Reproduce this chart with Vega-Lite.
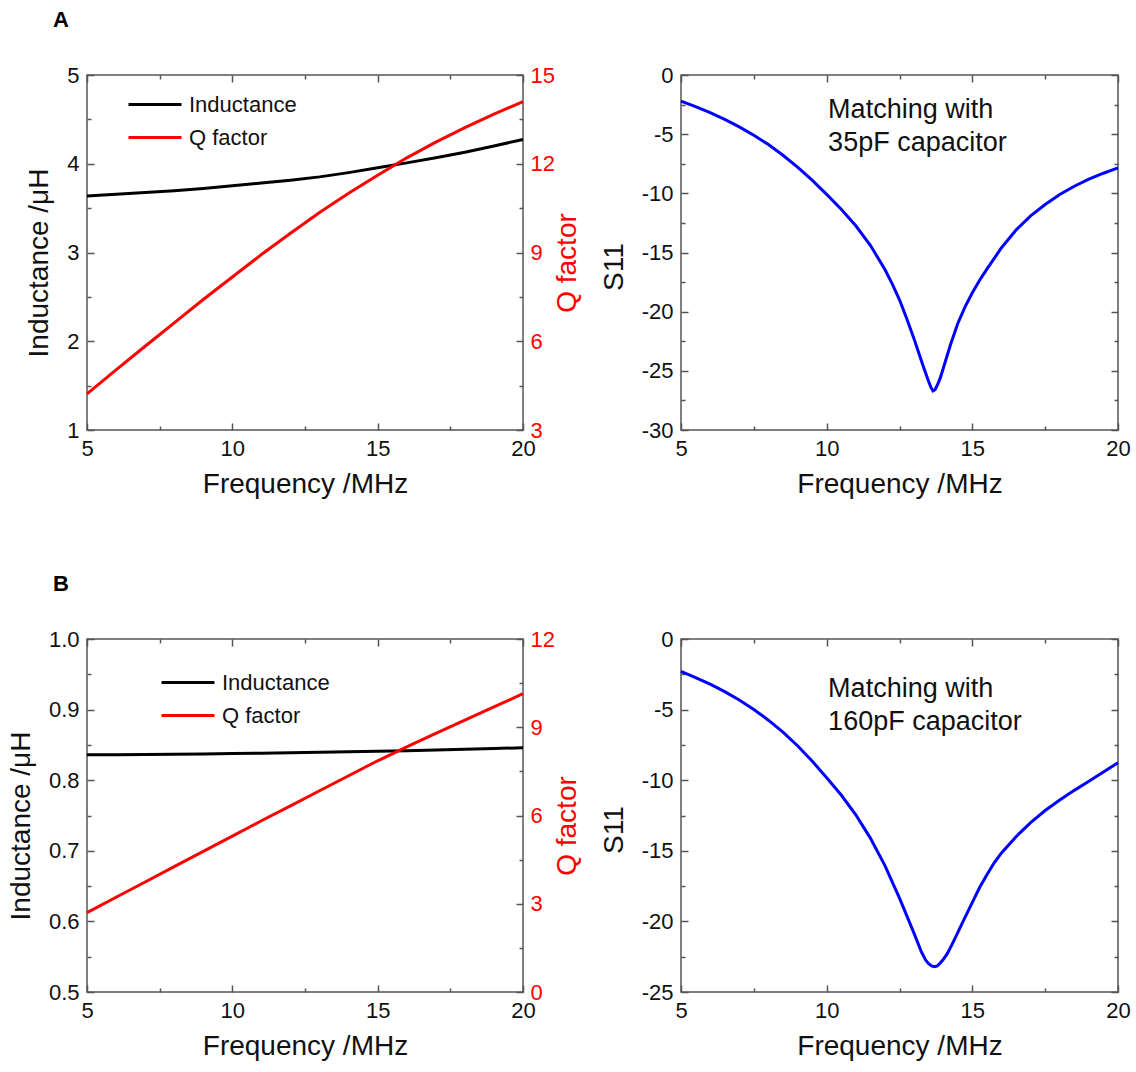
{
  "$schema": "https://vega.github.io/schema/vega-lite/v6.json",
  "background": "white",
  "padding": {"left": 6, "top": 8, "right": 10, "bottom": 10},
  "bounds": "flush",
  "columns": 2,
  "spacing": {"row": 209, "column": 158},
  "resolve": {"scale": {"color": "independent"}},
  "config": {
    "font": "Liberation Sans",
    "view": {"stroke": "#555555", "strokeWidth": 1.5},
    "axis": {
      "domain": false, "grid": false, "labelFlush": false, "labelOverlap": false, "ticks": true,
      "labelFont": "Liberation Sans", "labelFontSize": 22, "labelColor": "#111111",
      "titleFont": "Liberation Sans", "titleFontSize": 28, "titleFontWeight": "normal", "titleColor": "#111111",
      "tickColor": "#555555", "tickWidth": 1.5, "tickOpacity": 1
    },
    "legend": {
      "orient": "none", "title": null, "padding": 0, "symbolType": "stroke", "symbolSize": 2809,
      "symbolStrokeWidth": 3, "labelFont": "Liberation Sans", "labelFontSize": 22, "labelColor": "#111111",
      "labelOffset": 6, "rowPadding": 0, "clipHeight": 33
    }
  },
  "datasets": {
    "indA": [
      {"f": 5, "L": 3.638, "Q": 4.22}, {"f": 6, "L": 3.655, "Q": 5.03}, {"f": 7, "L": 3.675, "Q": 5.83},
      {"f": 8, "L": 3.697, "Q": 6.62}, {"f": 9, "L": 3.722, "Q": 7.41}, {"f": 10, "L": 3.751, "Q": 8.17},
      {"f": 11, "L": 3.782, "Q": 8.93}, {"f": 12, "L": 3.815, "Q": 9.65}, {"f": 13, "L": 3.852, "Q": 10.35},
      {"f": 14, "L": 3.9, "Q": 11.0}, {"f": 15, "L": 3.954, "Q": 11.61}, {"f": 16, "L": 4.01, "Q": 12.2},
      {"f": 17, "L": 4.068, "Q": 12.73}, {"f": 18, "L": 4.13, "Q": 13.22}, {"f": 19, "L": 4.2, "Q": 13.68},
      {"f": 20, "L": 4.274, "Q": 14.1}
    ],
    "indB": [
      {"f": 5, "L": 0.836, "Q": 2.7}, {"f": 6, "L": 0.8362, "Q": 3.22}, {"f": 7, "L": 0.8365, "Q": 3.74},
      {"f": 8, "L": 0.8368, "Q": 4.26}, {"f": 9, "L": 0.8372, "Q": 4.78}, {"f": 10, "L": 0.8377, "Q": 5.3},
      {"f": 11, "L": 0.8382, "Q": 5.82}, {"f": 12, "L": 0.8388, "Q": 6.33}, {"f": 13, "L": 0.8395, "Q": 6.84},
      {"f": 14, "L": 0.8402, "Q": 7.35}, {"f": 15, "L": 0.841, "Q": 7.86}, {"f": 16, "L": 0.8418, "Q": 8.33},
      {"f": 17, "L": 0.8427, "Q": 8.79}, {"f": 18, "L": 0.8437, "Q": 9.24}, {"f": 19, "L": 0.8448, "Q": 9.69},
      {"f": 20, "L": 0.846, "Q": 10.14}
    ],
    "s11A": [
      {"f": 5, "s": -2.2}, {"f": 5.5, "s": -2.67}, {"f": 6, "s": -3.18}, {"f": 6.5, "s": -3.75}, {"f": 7, "s": -4.38},
      {"f": 7.5, "s": -5.09}, {"f": 8, "s": -5.88}, {"f": 8.5, "s": -6.78}, {"f": 9, "s": -7.78}, {"f": 9.5, "s": -8.89},
      {"f": 10, "s": -10.09}, {"f": 10.5, "s": -11.34}, {"f": 11, "s": -12.74}, {"f": 11.5, "s": -14.39}, {"f": 12, "s": -16.44},
      {"f": 12.25, "s": -17.65}, {"f": 12.5, "s": -19.0}, {"f": 12.75, "s": -20.6}, {"f": 13, "s": -22.3}, {"f": 13.15, "s": -23.4},
      {"f": 13.3, "s": -24.5}, {"f": 13.4, "s": -25.2}, {"f": 13.5, "s": -25.9}, {"f": 13.58, "s": -26.4}, {"f": 13.65, "s": -26.7},
      {"f": 13.72, "s": -26.6}, {"f": 13.8, "s": -26.2}, {"f": 13.9, "s": -25.6}, {"f": 14.0, "s": -24.8}, {"f": 14.1, "s": -24.0},
      {"f": 14.25, "s": -22.8}, {"f": 14.5, "s": -21.0}, {"f": 14.75, "s": -19.6}, {"f": 15, "s": -18.4}, {"f": 15.25, "s": -17.35},
      {"f": 15.5, "s": -16.4}, {"f": 16, "s": -14.6}, {"f": 16.5, "s": -13.1}, {"f": 17, "s": -11.9}, {"f": 17.5, "s": -10.95},
      {"f": 18, "s": -10.1}, {"f": 18.5, "s": -9.4}, {"f": 19, "s": -8.8}, {"f": 19.5, "s": -8.3}, {"f": 20, "s": -7.85}
    ],
    "s11B": [
      {"f": 5, "s": -2.3}, {"f": 5.5, "s": -2.73}, {"f": 6, "s": -3.2}, {"f": 6.5, "s": -3.73}, {"f": 7, "s": -4.32},
      {"f": 7.5, "s": -4.99}, {"f": 8, "s": -5.75}, {"f": 8.5, "s": -6.6}, {"f": 9, "s": -7.56}, {"f": 9.5, "s": -8.64},
      {"f": 10, "s": -9.82}, {"f": 10.5, "s": -11.05}, {"f": 11, "s": -12.45}, {"f": 11.5, "s": -14.1}, {"f": 12, "s": -16.05},
      {"f": 12.5, "s": -18.35}, {"f": 13, "s": -20.85}, {"f": 13.25, "s": -22.15}, {"f": 13.4, "s": -22.75}, {"f": 13.5, "s": -23.0},
      {"f": 13.6, "s": -23.15}, {"f": 13.7, "s": -23.2}, {"f": 13.8, "s": -23.15}, {"f": 13.9, "s": -22.95}, {"f": 14.0, "s": -22.7},
      {"f": 14.15, "s": -22.25}, {"f": 14.3, "s": -21.65}, {"f": 14.45, "s": -21.0}, {"f": 14.6, "s": -20.35}, {"f": 14.8, "s": -19.5},
      {"f": 15, "s": -18.65}, {"f": 15.25, "s": -17.6}, {"f": 15.5, "s": -16.7}, {"f": 15.75, "s": -15.85}, {"f": 16, "s": -15.15},
      {"f": 16.5, "s": -14.0}, {"f": 17, "s": -13.0}, {"f": 17.5, "s": -12.15}, {"f": 18, "s": -11.4}, {"f": 18.5, "s": -10.72},
      {"f": 19, "s": -10.08}, {"f": 19.5, "s": -9.42}, {"f": 20, "s": -8.76}
    ],
    "noteA": [{"x": 10.05, "y": -3.66, "t": "Matching with\n35pF capacitor"}],
    "noteB": [{"x": 10.05, "y": -4.09, "t": "Matching with\n160pF capacitor"}]
  },
  "concat": [
    {
      "width": 436, "height": 355,
      "title": {"text": "A", "anchor": "start", "frame": "group", "fontSize": 22, "fontWeight": "bold", "color": "#000000", "dx": -34, "offset": 32},
      "data": {"name": "indA"},
      "resolve": {"scale": {"y": "independent"}, "axis": {"x": "independent", "y": "independent"}},
      "layer": [
        {
          "mark": {"type": "line", "strokeWidth": 3},
          "encoding": {
            "x": {"field": "f", "type": "quantitative", "scale": {"domain": [5, 20], "nice": false, "zero": false},
                  "axis": {"orient": "bottom", "title": "Frequency /MHz", "values": [5, 10, 15, 20], "tickSize": -7,
                           "labelPadding": 15, "titlePadding": 11}},
            "y": {"field": "L", "type": "quantitative", "scale": {"domain": [1, 5], "nice": false, "zero": false},
                  "axis": {"orient": "left", "title": "Inductance /μH", "values": [1, 2, 3, 4, 5], "tickSize": -7,
                           "labelPadding": 15, "titlePadding": 13, "titleY": 187.5}},
            "color": {"datum": "Inductance", "scale": {"domain": ["Inductance", "Q factor"], "range": ["#000000", "#ff0000"]},
                      "legend": {"legendX": 40, "legendY": 13}}
          }
        },
        {
          "mark": {"type": "line", "strokeWidth": 3},
          "encoding": {
            "x": {"field": "f", "type": "quantitative", "scale": {"domain": [5, 20], "nice": false, "zero": false},
                  "axis": {"orient": "top", "title": null, "labels": false, "values": [5, 10, 15, 20], "tickSize": -7}},
            "y": {"field": "Q", "type": "quantitative", "scale": {"domain": [3, 15], "nice": false, "zero": false},
                  "axis": {"orient": "right", "title": "Q factor", "titleColor": "#ff0000", "labelColor": "#ff0000",
                           "titleAngle": 270, "titleBaseline": "top", "titleY": 187.5,
                           "values": [3, 6, 9, 12, 15], "tickSize": -7, "labelPadding": 14, "titlePadding": -1}},
            "color": {"datum": "Q factor"}
          }
        },
        {
          "mark": {"type": "line", "opacity": 0},
          "encoding": {
            "x": {"field": "f", "type": "quantitative", "scale": {"domain": [5, 20], "nice": false, "zero": false},
                  "axis": {"orient": "bottom", "title": null, "labels": false, "values": [7.5, 12.5, 17.5], "tickSize": -4}},
            "y": {"field": "L", "type": "quantitative", "scale": {"domain": [1, 5], "nice": false, "zero": false},
                  "axis": {"orient": "left", "title": null, "labels": false, "values": [1.5, 2.5, 3.5, 4.5], "tickSize": -4}}
          }
        },
        {
          "mark": {"type": "line", "opacity": 0},
          "encoding": {
            "x": {"field": "f", "type": "quantitative", "scale": {"domain": [5, 20], "nice": false, "zero": false},
                  "axis": {"orient": "top", "title": null, "labels": false, "values": [7.5, 12.5, 17.5], "tickSize": -4}},
            "y": {"field": "Q", "type": "quantitative", "scale": {"domain": [3, 15], "nice": false, "zero": false},
                  "axis": {"orient": "right", "title": null, "labels": false, "values": [4.5, 7.5, 10.5, 13.5], "tickSize": -4}}
          }
        }
      ]
    },
    {
      "width": 437, "height": 355,
      "resolve": {"axis": {"x": "independent", "y": "independent"}},
      "layer": [
        {
          "data": {"name": "s11A"},
          "mark": {"type": "line", "strokeWidth": 3, "color": "#0000ff"},
          "encoding": {
            "x": {"field": "f", "type": "quantitative", "scale": {"domain": [5, 20], "nice": false, "zero": false},
                  "axis": {"orient": "bottom", "title": "Frequency /MHz", "values": [5, 10, 15, 20], "tickSize": -7,
                           "labelPadding": 15, "titlePadding": 11}},
            "y": {"field": "s", "type": "quantitative", "scale": {"domain": [-30, 0], "nice": false, "zero": false},
                  "axis": {"orient": "left", "title": "S11", "values": [-30, -25, -20, -15, -10, -5, 0],
                           "labelExpr": "'' + datum.value", "tickSize": -7,
                           "labelPadding": 15, "titlePadding": 13, "titleY": 191.5}}
          }
        },
        {
          "data": {"name": "noteA"},
          "mark": {"type": "text", "align": "left", "baseline": "alphabetic", "fontSize": 27, "lineBreak": "\n", "lineHeight": 33, "color": "#111111"},
          "encoding": {
            "x": {"field": "x", "type": "quantitative", "scale": {"domain": [5, 20], "nice": false, "zero": false},
                  "axis": {"orient": "top", "title": null, "labels": false, "values": [5, 10, 15, 20], "tickSize": -7}},
            "y": {"field": "y", "type": "quantitative", "scale": {"domain": [-30, 0], "nice": false, "zero": false},
                  "axis": {"orient": "right", "title": null, "labels": false, "values": [-30, -25, -20, -15, -10, -5, 0], "tickSize": -7}},
            "text": {"field": "t"}
          }
        },
        {
          "data": {"name": "s11A"},
          "mark": {"type": "line", "opacity": 0},
          "encoding": {
            "x": {"field": "f", "type": "quantitative", "scale": {"domain": [5, 20], "nice": false, "zero": false},
                  "axis": {"orient": "bottom", "title": null, "labels": false, "values": [7.5, 12.5, 17.5], "tickSize": -4}},
            "y": {"field": "s", "type": "quantitative", "scale": {"domain": [-30, 0], "nice": false, "zero": false},
                  "axis": {"orient": "left", "title": null, "labels": false, "values": [-27.5, -22.5, -17.5, -12.5, -7.5, -2.5], "tickSize": -4}}
          }
        },
        {
          "data": {"name": "s11A"},
          "mark": {"type": "line", "opacity": 0},
          "encoding": {
            "x": {"field": "f", "type": "quantitative", "scale": {"domain": [5, 20], "nice": false, "zero": false},
                  "axis": {"orient": "top", "title": null, "labels": false, "values": [7.5, 12.5, 17.5], "tickSize": -4}},
            "y": {"field": "s", "type": "quantitative", "scale": {"domain": [-30, 0], "nice": false, "zero": false},
                  "axis": {"orient": "right", "title": null, "labels": false, "values": [-27.5, -22.5, -17.5, -12.5, -7.5, -2.5], "tickSize": -4}}
          }
        }
      ]
    },
    {
      "width": 436, "height": 353,
      "title": {"text": "B", "anchor": "start", "frame": "group", "fontSize": 22, "fontWeight": "bold", "color": "#000000", "dx": -34, "offset": 32},
      "data": {"name": "indB"},
      "resolve": {"scale": {"y": "independent"}, "axis": {"x": "independent", "y": "independent"}},
      "layer": [
        {
          "mark": {"type": "line", "strokeWidth": 3},
          "encoding": {
            "x": {"field": "f", "type": "quantitative", "scale": {"domain": [5, 20], "nice": false, "zero": false},
                  "axis": {"orient": "bottom", "title": "Frequency /MHz", "values": [5, 10, 15, 20], "tickSize": -7,
                           "labelPadding": 15, "titlePadding": 11}},
            "y": {"field": "L", "type": "quantitative", "scale": {"domain": [0.5, 1.0], "nice": false, "zero": false},
                  "axis": {"orient": "left", "title": "Inductance /μH", "format": ".1f", "values": [0.5, 0.6, 0.7, 0.8, 0.9, 1.0],
                           "tickSize": -7, "labelPadding": 15, "titlePadding": 13, "titleY": 186.5}},
            "color": {"datum": "Inductance", "scale": {"domain": ["Inductance", "Q factor"], "range": ["#000000", "#ff0000"]},
                      "legend": {"legendX": 73, "legendY": 27}}
          }
        },
        {
          "mark": {"type": "line", "strokeWidth": 3},
          "encoding": {
            "x": {"field": "f", "type": "quantitative", "scale": {"domain": [5, 20], "nice": false, "zero": false},
                  "axis": {"orient": "top", "title": null, "labels": false, "values": [5, 10, 15, 20], "tickSize": -7}},
            "y": {"field": "Q", "type": "quantitative", "scale": {"domain": [0, 12], "nice": false, "zero": false},
                  "axis": {"orient": "right", "title": "Q factor", "titleColor": "#ff0000", "labelColor": "#ff0000",
                           "titleAngle": 270, "titleBaseline": "top", "titleY": 186.5,
                           "values": [0, 3, 6, 9, 12], "tickSize": -7, "labelPadding": 14, "titlePadding": -1}},
            "color": {"datum": "Q factor"}
          }
        },
        {
          "mark": {"type": "line", "opacity": 0},
          "encoding": {
            "x": {"field": "f", "type": "quantitative", "scale": {"domain": [5, 20], "nice": false, "zero": false},
                  "axis": {"orient": "bottom", "title": null, "labels": false, "values": [7.5, 12.5, 17.5], "tickSize": -4}},
            "y": {"field": "L", "type": "quantitative", "scale": {"domain": [0.5, 1.0], "nice": false, "zero": false},
                  "axis": {"orient": "left", "title": null, "labels": false, "values": [0.55, 0.65, 0.75, 0.85, 0.95], "tickSize": -4}}
          }
        },
        {
          "mark": {"type": "line", "opacity": 0},
          "encoding": {
            "x": {"field": "f", "type": "quantitative", "scale": {"domain": [5, 20], "nice": false, "zero": false},
                  "axis": {"orient": "top", "title": null, "labels": false, "values": [7.5, 12.5, 17.5], "tickSize": -4}},
            "y": {"field": "Q", "type": "quantitative", "scale": {"domain": [0, 12], "nice": false, "zero": false},
                  "axis": {"orient": "right", "title": null, "labels": false, "values": [1.5, 4.5, 7.5, 10.5], "tickSize": -4}}
          }
        }
      ]
    },
    {
      "width": 437, "height": 353,
      "resolve": {"axis": {"x": "independent", "y": "independent"}},
      "layer": [
        {
          "data": {"name": "s11B"},
          "mark": {"type": "line", "strokeWidth": 3, "color": "#0000ff"},
          "encoding": {
            "x": {"field": "f", "type": "quantitative", "scale": {"domain": [5, 20], "nice": false, "zero": false},
                  "axis": {"orient": "bottom", "title": "Frequency /MHz", "values": [5, 10, 15, 20], "tickSize": -7,
                           "labelPadding": 15, "titlePadding": 11}},
            "y": {"field": "s", "type": "quantitative", "scale": {"domain": [-25, 0], "nice": false, "zero": false},
                  "axis": {"orient": "left", "title": "S11", "values": [-25, -20, -15, -10, -5, 0],
                           "labelExpr": "'' + datum.value", "tickSize": -7,
                           "labelPadding": 15, "titlePadding": 13, "titleY": 190.5}}
          }
        },
        {
          "data": {"name": "noteB"},
          "mark": {"type": "text", "align": "left", "baseline": "alphabetic", "fontSize": 27, "lineBreak": "\n", "lineHeight": 33, "color": "#111111"},
          "encoding": {
            "x": {"field": "x", "type": "quantitative", "scale": {"domain": [5, 20], "nice": false, "zero": false},
                  "axis": {"orient": "top", "title": null, "labels": false, "values": [5, 10, 15, 20], "tickSize": -7}},
            "y": {"field": "y", "type": "quantitative", "scale": {"domain": [-25, 0], "nice": false, "zero": false},
                  "axis": {"orient": "right", "title": null, "labels": false, "values": [-25, -20, -15, -10, -5, 0], "tickSize": -7}},
            "text": {"field": "t"}
          }
        },
        {
          "data": {"name": "s11B"},
          "mark": {"type": "line", "opacity": 0},
          "encoding": {
            "x": {"field": "f", "type": "quantitative", "scale": {"domain": [5, 20], "nice": false, "zero": false},
                  "axis": {"orient": "bottom", "title": null, "labels": false, "values": [7.5, 12.5, 17.5], "tickSize": -4}},
            "y": {"field": "s", "type": "quantitative", "scale": {"domain": [-25, 0], "nice": false, "zero": false},
                  "axis": {"orient": "left", "title": null, "labels": false, "values": [-22.5, -17.5, -12.5, -7.5, -2.5], "tickSize": -4}}
          }
        },
        {
          "data": {"name": "s11B"},
          "mark": {"type": "line", "opacity": 0},
          "encoding": {
            "x": {"field": "f", "type": "quantitative", "scale": {"domain": [5, 20], "nice": false, "zero": false},
                  "axis": {"orient": "top", "title": null, "labels": false, "values": [7.5, 12.5, 17.5], "tickSize": -4}},
            "y": {"field": "s", "type": "quantitative", "scale": {"domain": [-25, 0], "nice": false, "zero": false},
                  "axis": {"orient": "right", "title": null, "labels": false, "values": [-22.5, -17.5, -12.5, -7.5, -2.5], "tickSize": -4}}
          }
        }
      ]
    }
  ]
}
